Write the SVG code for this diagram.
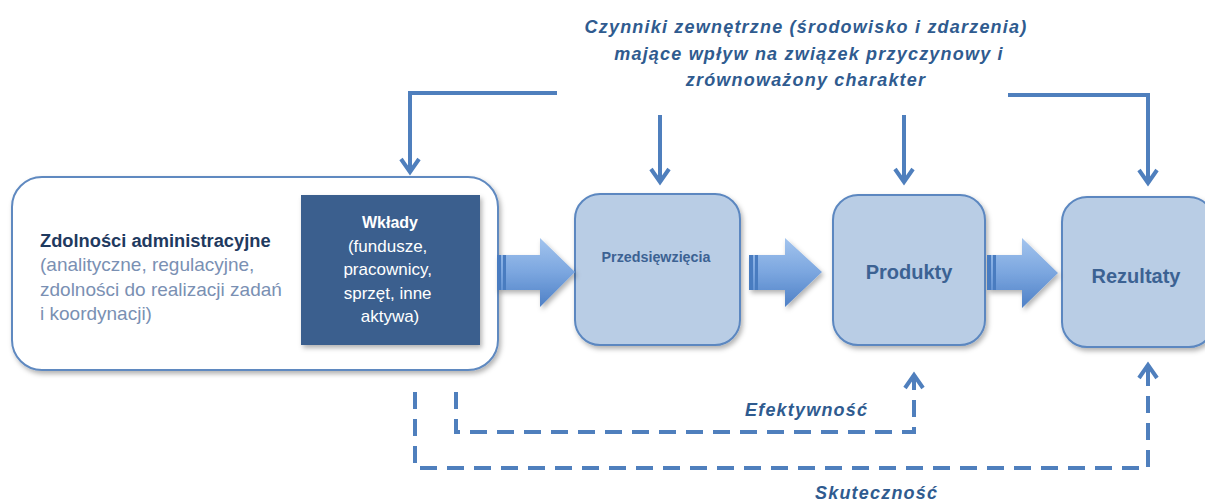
<svg xmlns="http://www.w3.org/2000/svg" width="1205" height="504" viewBox="0 0 1205 504">
<defs>
<style>
.lbl{font-family:"Liberation Sans",Arial,sans-serif}
.it{font-family:"Liberation Sans",Arial,sans-serif;font-style:italic;font-weight:bold;fill:#2f5b8f;font-size:18px;letter-spacing:1.2px}
.node{fill:#b9cde5;stroke:#5b87c0;stroke-width:2}
.conn{fill:none;stroke:#4f7fbd;stroke-width:4}
.dash{fill:none;stroke:#4f7fbd;stroke-width:4;stroke-dasharray:17 10}
.ntxt{font-family:"Liberation Sans",Arial,sans-serif;font-weight:bold;fill:#3c6293;text-anchor:middle}
.stripe{fill:#4a7cc0}
</style>
<linearGradient id="ag" x1="0" y1="0" x2="0" y2="1">
<stop offset="0" stop-color="#a3c4ee"/>
<stop offset="0.5" stop-color="#7ba6df"/>
<stop offset="1" stop-color="#4e80c6"/>
</linearGradient>
<filter id="sh" x="-10%" y="-10%" width="125%" height="125%">
<feDropShadow dx="2" dy="3" stdDeviation="2.5" flood-color="#000" flood-opacity="0.3"/>
</filter>
<marker id="ah" markerUnits="userSpaceOnUse" viewBox="-16 -12 18 24" markerWidth="18" markerHeight="24" refX="0" refY="0" orient="auto" overflow="visible">
<path d="M-13,-9 L0,0 L-13,9" fill="none" stroke="#4f7fbd" stroke-width="4" stroke-linejoin="miter"/>
</marker>
</defs>

<g id="title" class="it" text-anchor="middle">
<text x="806" y="33">Czynniki zewnętrzne (środowisko i zdarzenia)</text>
<text x="809" y="60">mające wpływ na związek przyczynowy i</text>
<text x="806" y="86">zrównoważony charakter</text>
</g>

<g id="zdolnosci">
<rect x="12" y="177" width="486" height="193" rx="30" fill="#fff" stroke="#5f89c0" stroke-width="2" filter="url(#sh)"/>
<text class="lbl" x="40" y="247" font-size="18.3" font-weight="bold" fill="#1f3a5f">Zdolności administracyjne</text>
<text class="lbl" font-size="19" fill="#7a90b3">
<tspan x="40" y="271">(analityczne, regulacyjne,</tspan>
<tspan x="40" y="296">zdolności do realizacji zadań</tspan>
<tspan x="40" y="320">i koordynacji)</tspan>
</text>
</g>

<g id="wklady">
<rect x="301" y="195" width="179" height="150" fill="#3a5f8e" filter="url(#sh)"/>
<text class="lbl" x="390" y="228" font-size="16" font-weight="bold" fill="#fff" text-anchor="middle">Wkłady</text>
<text class="lbl" font-size="17" fill="#fff" text-anchor="middle">
<tspan x="390" y="252">(fundusze,</tspan>
<tspan x="390" y="275">pracownicy,</tspan>
<tspan x="390" y="299">sprzęt, inne</tspan>
<tspan x="390" y="322">aktywa)</tspan>
</text>
</g>

<g id="przedsiewziecia">
<rect class="node" x="575" y="194" width="165" height="151" rx="25" filter="url(#sh)"/>
<text class="ntxt" x="656" y="262" font-size="14.3">Przedsięwzięcia</text>
</g>

<g id="produkty">
<rect class="node" x="833" y="195" width="152" height="150" rx="25" filter="url(#sh)"/>
<text class="ntxt" x="909" y="279" font-size="20">Produkty</text>
</g>

<g id="rezultaty">
<rect class="node" x="1062" y="197" width="152" height="150" rx="25" filter="url(#sh)"/>
<text class="ntxt" x="1136" y="283" font-size="20">Rezultaty</text>
</g>

<g id="connectors">
<g id="block-arrows" filter="url(#sh)">
<polygon points="497,255 540,255 540,238 575,272 540,307 540,290 497,290" fill="url(#ag)"/>
<rect class="stripe" x="497" y="255" width="4" height="35"/>
<rect class="stripe" x="503" y="255" width="3" height="35"/>
<polygon points="749,255 785,255 785,238 822,272 785,307 785,290 749,290" fill="url(#ag)"/>
<rect class="stripe" x="749" y="255" width="4" height="35"/>
<rect class="stripe" x="755" y="255" width="3" height="35"/>
<polygon points="987,255 1022,255 1022,238 1058,273 1022,308 1022,290 987,290" fill="url(#ag)"/>
<rect class="stripe" x="987" y="255" width="4" height="35"/>
<rect class="stripe" x="993" y="255" width="3" height="35"/>
</g>
<path class="conn" d="M557,93 H410 V172" marker-end="url(#ah)"/>
<path class="conn" d="M660,115 V182" marker-end="url(#ah)"/>
<path class="conn" d="M904,115 V182" marker-end="url(#ah)"/>
<path class="conn" d="M1008,95 H1148 V183" marker-end="url(#ah)"/>
<path class="dash" d="M456,392 V432 H914 V376"/>
<path class="conn" d="M914,384 V375" marker-end="url(#ah)"/>
<path class="dash" d="M415,392 V468 H1148 V366"/>
<path class="conn" d="M1148,374 V365" marker-end="url(#ah)"/>
</g>

<g id="labels" class="it">
<text x="745" y="416">Efektywność</text>
<text x="815" y="499">Skuteczność</text>
</g>
</svg>
